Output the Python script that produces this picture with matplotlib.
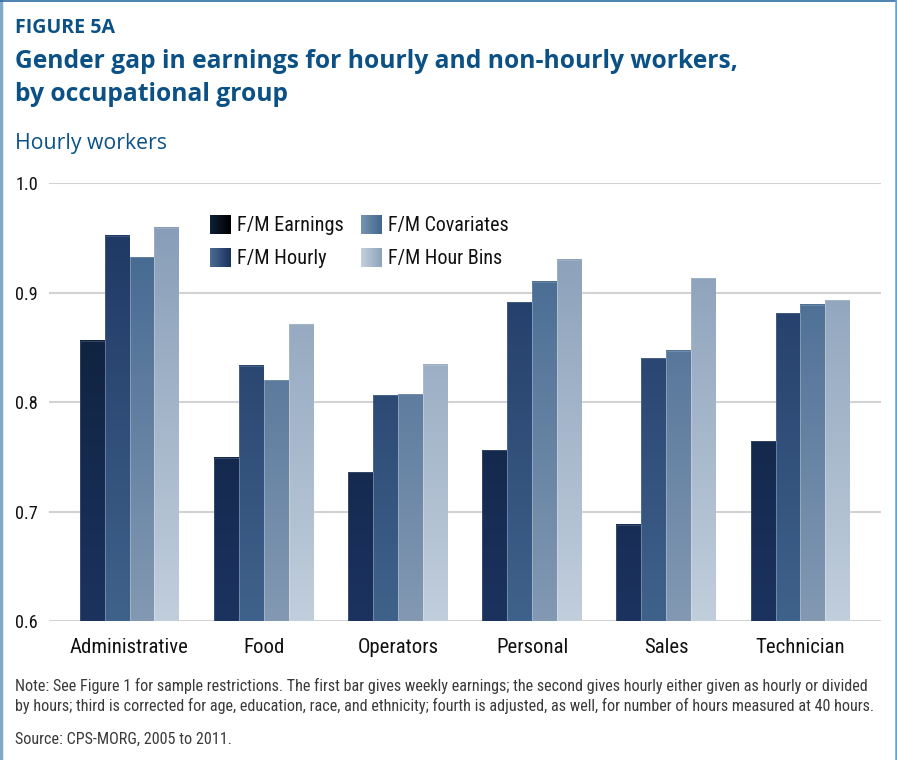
import matplotlib
matplotlib.use("Agg")
import matplotlib.pyplot as plt
from matplotlib import font_manager
from matplotlib.colors import to_rgb
from matplotlib.patches import Rectangle
import numpy as np

categories = ["Administrative", "Food", "Operators", "Personal", "Sales", "Technician"]
series_names = ["F/M Earnings", "F/M Hourly", "F/M Covariates", "F/M Hour Bins"]
fm_earnings = [0.856, 0.749, 0.736, 0.756, 0.688, 0.764]
fm_hourly = [0.952, 0.833, 0.806, 0.891, 0.840, 0.881]
fm_covariates = [0.932, 0.820, 0.807, 0.910, 0.847, 0.889]
fm_hour_bins = [0.959, 0.871, 0.834, 0.930, 0.913, 0.893]
yticks = [0.6, 0.7, 0.8, 0.9, 1.0]

# (colour at 0.6, colour at 1.0) for each series
bar_grads = [("#1c3360", "#0a1a30"),
             ("#3f628b", "#1c3461"),
             ("#8399b3", "#3c628c"),
             ("#c1cedc", "#8299b4")]
legend_grads = [("#0d2038", "#000000"),
                ("#4b6c93", "#1b325e"),
                ("#7893b2", "#426790"),
                ("#c3d0dd", "#8ea4bc")]

names = {f.name for f in font_manager.fontManager.ttflist}


def pick(*cands):
    for c in cands:
        if c in names:
            return c
    return "DejaVu Sans"


body_font = pick("Liberation Sans Narrow", "Roboto Condensed", "Open Sans Condensed", "Roboto", "Lato")
head_font = pick("Open Sans", "Noto Sans", "Lato")

W, H = 897, 760
fig = plt.figure(figsize=(W / 100, H / 100), dpi=100)
renderer = fig.canvas.get_renderer()
title_blue = "#0b5186"


def fit(t, width_px):
    # shrink or grow a text so it spans the same width as in the reference
    w = t.get_window_extent(renderer).width
    t.set_fontsize(t.get_fontsize() * width_px / w)
    return t


# frame around the figure
fig.add_artist(plt.Line2D([0.5 / W, 0.5 / W], [0, 1], color="#7fa9cb", lw=2.5))
fig.add_artist(plt.Line2D([0, 1], [1 - 0.7 / H, 1 - 0.7 / H], color="#2f6ea5", lw=1.2))
fig.add_artist(plt.Line2D([1 - 1.2 / W, 1 - 1.2 / W], [0, 1], color="#6aa0c8", lw=1.8))

fit(fig.text(15 / W, 1 - 33 / H, "FIGURE 5A", fontsize=13, fontweight="bold",
             color=title_blue, family=head_font), 100)
title = fit(fig.text(15 / W, 1 - 68 / H, "Gender gap in earnings for hourly and non-hourly workers,",
                     fontsize=18, fontweight="bold", color=title_blue, family=head_font), 723)
fig.text(15 / W, 1 - 101 / H, "by occupational group",
         fontsize=title.get_fontsize(), fontweight="bold", color=title_blue, family=head_font)
fit(fig.text(15 / W, 1 - 149 / H, "Hourly workers", fontsize=15.5,
             color=title_blue, family=head_font), 152)

ax = fig.add_axes([49 / W, (H - 621) / H, 832 / W, 438 / H])
for s in ax.spines.values():
    s.set_visible(False)
ax.set_yticks(yticks)
ax.set_xticks(range(len(categories)))
ax.tick_params(axis="both", length=0)
ax.tick_params(axis="y", pad=8)
ax.tick_params(axis="x", pad=12)

# size the tick labels from the reference widths
probe = fig.text(0, 0, "Administrative", fontsize=14, family=body_font)
fit(probe, 119)
cat_size = probe.get_fontsize()
probe.set_text("1.0")
probe.set_fontsize(14)
fit(probe, 23)
num_size = probe.get_fontsize()
probe.remove()

ax.set_yticklabels([f"{t:.1f}" for t in yticks], fontsize=num_size, family=body_font, color="#111111")
ax.set_xticklabels(categories, fontsize=cat_size, family=body_font, color="#111111")
for t in yticks:
    ax.axhline(t, color="#d2d2d2", lw=1.5, zorder=0)

all_series = [fm_earnings, fm_hourly, fm_covariates, fm_hour_bins]
bw = 0.186
x = np.arange(len(categories))
for k, vals in enumerate(all_series):
    lo, hi = np.array(to_rgb(bar_grads[k][0])), np.array(to_rgb(bar_grads[k][1]))
    for i, v in enumerate(vals):
        x0 = x[i] - 2 * bw + k * bw
        ys = np.linspace(v, 0.6, 64)
        frac = ((ys - 0.6) / 0.4)[:, None]
        img = (lo + (hi - lo) * frac)[:, None, :]
        ax.imshow(img, extent=(x0, x0 + bw, 0.6, v), aspect="auto",
                  interpolation="bilinear", zorder=2)
        ax.add_patch(Rectangle((x0, 0.6), bw, v - 0.6, fill=False,
                               edgecolor=(1, 1, 1, 0.2), lw=0.5, zorder=3))
ax.set_xlim(-0.6, 5.6)
ax.set_ylim(0.6, 1.0)

# legend drawn by hand so the keys keep their horizontal gradient
key_pos = [(210, 215), (210, 248), (361, 215), (361, 248)]
label_w = [107, 90, 122, 115]
for k, name in enumerate(series_names):
    px, py = key_pos[k]
    kax = fig.add_axes([px / W, 1 - (py + 19) / H, 20 / W, 19 / H])
    c0, c1 = np.array(to_rgb(legend_grads[k][0])), np.array(to_rgb(legend_grads[k][1]))
    f = np.linspace(0, 1, 32)[:, None]
    kax.imshow((c0 + (c1 - c0) * f)[None, :, :], aspect="auto", interpolation="bilinear")
    kax.axis("off")
    fit(fig.text((px + 27) / W, 1 - (py + 16) / H, name, fontsize=14,
                 family=body_font, color="#111111"), label_w[k])

note1 = ("Note: See Figure 1 for sample restrictions. The first bar gives weekly earnings; "
         "the second gives hourly either given as hourly or divided")
note2 = ("by hours; third is corrected for age, education, race, and ethnicity; "
         "fourth is adjusted, as well, for number of hours measured at 40 hours.")
t1 = fit(fig.text(15 / W, 1 - 691 / H, note1, fontsize=10, family=body_font, color="#3a3a3a"), 849)
fig.text(15 / W, 1 - 711 / H, note2, fontsize=t1.get_fontsize(), family=body_font, color="#3a3a3a")
fig.text(15 / W, 1 - 744 / H, "Source: CPS-MORG, 2005 to 2011.", fontsize=t1.get_fontsize(),
         family=body_font, color="#3a3a3a")

fig.savefig("out.png", dpi=100)
